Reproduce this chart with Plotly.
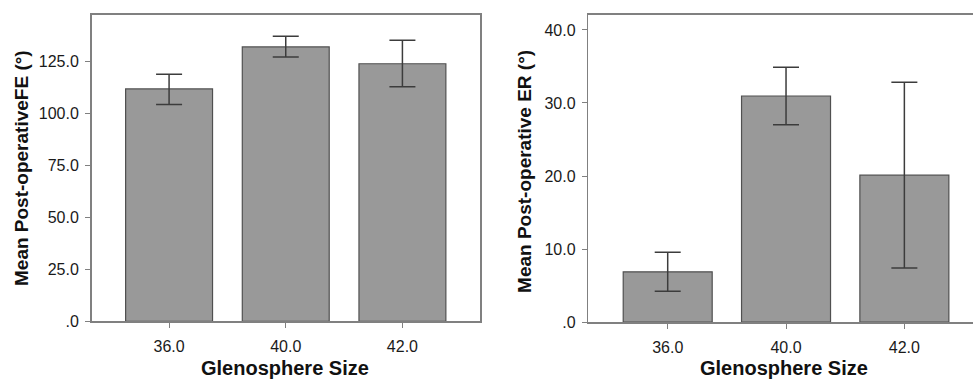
import plotly.graph_objects as go

# Data
categories = ["36.0", "40.0", "42.0"]
fe_mean = [111.7, 131.9, 123.8]
fe_upper = [118.8, 137.0, 135.1]
fe_lower = [104.2, 127.1, 112.8]
er_mean = [6.88, 30.96, 20.12]
er_upper = [9.55, 34.88, 32.83]
er_lower = [4.2, 27.02, 7.41]
fe_tickvals = [0, 25, 50, 75, 100, 125]
fe_ticktext = [".0", "25.0", "50.0", "75.0", "100.0", "125.0"]
er_tickvals = [0, 10, 20, 30, 40]
er_ticktext = [".0", "10.0", "20.0", "30.0", "40.0"]

xpos = list(range(len(categories)))

BAR_FILL = "#999999"
BAR_LINE = "#505050"
ERR_COLOR = "#3c3c3c"
AXIS_COLOR = "#808080"
FONT = "Liberation Sans, Arial, sans-serif"

fig = go.Figure()

fig.add_trace(go.Bar(
    x=xpos, y=fe_mean, width=0.745,
    marker=dict(color=BAR_FILL, line=dict(color=BAR_LINE, width=1.2)),
    error_y=dict(type="data", symmetric=False,
                 array=[u - m for u, m in zip(fe_upper, fe_mean)],
                 arrayminus=[m - l for l, m in zip(fe_lower, fe_mean)],
                 color=ERR_COLOR, thickness=1.5, width=13),
    xaxis="x", yaxis="y", showlegend=False, hoverinfo="skip",
))

fig.add_trace(go.Bar(
    x=xpos, y=er_mean, width=0.752,
    marker=dict(color=BAR_FILL, line=dict(color=BAR_LINE, width=1.2)),
    error_y=dict(type="data", symmetric=False,
                 array=[u - m for u, m in zip(er_upper, er_mean)],
                 arrayminus=[m - l for l, m in zip(er_lower, er_mean)],
                 color=ERR_COLOR, thickness=1.5, width=13),
    xaxis="x2", yaxis="y2", showlegend=False, hoverinfo="skip",
))

W, H = 973, 387

common_x = dict(
    tickmode="array", tickvals=xpos, ticktext=categories,
    ticks="outside", ticklen=5, tickcolor=AXIS_COLOR, tickwidth=1,
    showline=True, linecolor=AXIS_COLOR, linewidth=1.5,
    showgrid=False, zeroline=False,
    tickfont=dict(family=FONT, size=16, color="#1a1a1a"),
    ticklabelstandoff=5,
)
common_y = dict(
    ticks="outside", ticklen=5, tickcolor=AXIS_COLOR, tickwidth=1,
    showline=True, linecolor=AXIS_COLOR, linewidth=1.5,
    showgrid=False, zeroline=False,
    tickfont=dict(family=FONT, size=16, color="#1a1a1a"),
    ticklabelstandoff=3,
)

fig.update_layout(
    width=W, height=H,
    margin=dict(l=0, r=0, t=0, b=0),
    paper_bgcolor="white", plot_bgcolor="white",
    bargap=0,
    hovermode=False,
    xaxis=dict(common_x, domain=[91.5 / W, 480 / W], range=[-0.665, 2.665],
               anchor="y", mirror=True),
    yaxis=dict(common_y, domain=[58 / H, 372 / H], range=[0, 147.4],
               tickmode="array", tickvals=fe_tickvals, ticktext=fe_ticktext,
               anchor="x", mirror=True),
    xaxis2=dict(common_x, domain=[588.3 / W, 1.0], range=[-0.671, 2.58],
                anchor="y2", mirror=True),
    yaxis2=dict(common_y, domain=[57.3 / H, 372 / H], range=[0, 42.1],
                tickmode="array", tickvals=er_tickvals, ticktext=er_ticktext,
                anchor="x2", mirror=False),
    annotations=[
        dict(text="<b>Glenosphere Size</b>", x=285 / W, y=(H - 377) / H,
             xref="paper", yref="paper", showarrow=False,
             font=dict(family=FONT, size=20, color="#111111"),
             xanchor="center", yanchor="middle"),
        dict(text="<b>Glenosphere Size</b>", x=784 / W, y=(H - 377) / H,
             xref="paper", yref="paper", showarrow=False,
             font=dict(family=FONT, size=20, color="#111111"),
             xanchor="center", yanchor="middle"),
        dict(text="<b>Mean Post-operativeFE (°)</b>", x=21 / W, y=(H - 172) / H,
             xref="paper", yref="paper", showarrow=False, textangle=-90,
             font=dict(family=FONT, size=19, color="#111111"),
             xanchor="center", yanchor="middle"),
        dict(text="<b>Mean Post-operative ER (°)</b>", x=525 / W, y=(H - 176) / H,
             xref="paper", yref="paper", showarrow=False, textangle=-90,
             font=dict(family=FONT, size=19, color="#111111"),
             xanchor="center", yanchor="middle"),
    ],
)

fig.write_html("out.html",
               config={"displayModeBar": False, "staticPlot": True},
               post_script="document.body.style.margin='0';document.body.style.overflow='hidden';")
